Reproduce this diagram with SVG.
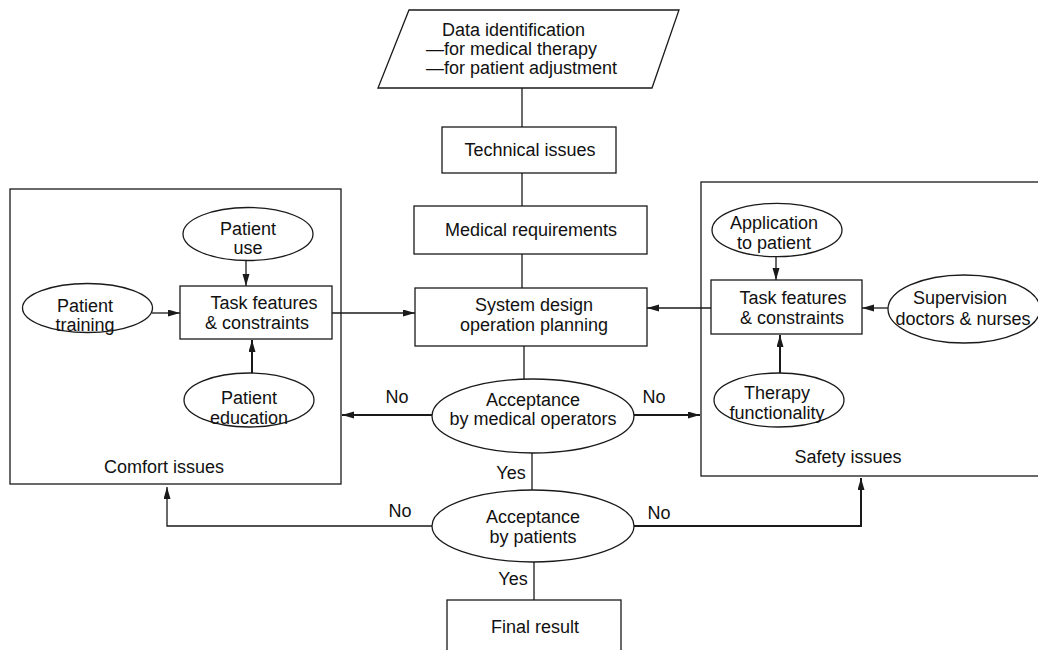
<svg xmlns="http://www.w3.org/2000/svg" width="1038" height="650" viewBox="0 0 1038 650">
<style>
  .shape { fill: #ffffff; stroke: #1a1a1a; stroke-width: 1.3; }
  .frame { fill: none; stroke: #1a1a1a; stroke-width: 1.3; }
  .line { fill: none; stroke: #1a1a1a; stroke-width: 1.3; }
  .thick { fill: none; stroke: #1a1a1a; stroke-width: 2; }
  text { font-family: "Liberation Sans", Arial, sans-serif; font-size: 18px; fill: #111111; }
  .c { text-anchor: middle; }
</style>
<defs>
  <marker id="arr" markerUnits="userSpaceOnUse" markerWidth="12" markerHeight="8" refX="12" refY="3.5" orient="auto">
    <path d="M0,0 L12,3.5 L0,7 z" fill="#1a1a1a"/>
  </marker>
</defs>
<rect width="1038" height="650" fill="#ffffff"/>

<g id="comfort-issues">
  <rect class="frame" x="10" y="189" width="331" height="295"/>
  <text class="c" x="164" y="473">Comfort issues</text>
</g>
<g id="safety-issues">
  <rect class="frame" x="701" y="182" width="400" height="294"/>
  <text class="c" x="848" y="463">Safety issues</text>
</g>

<g id="connectors">
  <line class="line" x1="522" y1="88" x2="522" y2="127"/>
  <line class="line" x1="522" y1="173" x2="522" y2="206"/>
  <line class="line" x1="522" y1="254" x2="522" y2="288"/>
  <line class="line" x1="524" y1="346" x2="524" y2="379"/>
  <line class="thick" x1="432" y1="415" x2="342" y2="415" marker-end="url(#arr)"/>
  <line class="thick" x1="634" y1="415" x2="700" y2="415" marker-end="url(#arr)"/>
  <line class="line" x1="532" y1="453" x2="532" y2="490"/>
  <polyline class="line" points="432,526 167,526 167,487" marker-end="url(#arr)"/>
  <polyline class="thick" points="634,526 861,526 861,478" marker-end="url(#arr)"/>
  <line class="line" x1="534" y1="562" x2="534" y2="600"/>
  <line class="line" x1="246" y1="261" x2="246" y2="286" marker-end="url(#arr)"/>
  <line class="line" x1="152" y1="313" x2="180" y2="313" marker-end="url(#arr)"/>
  <line class="line" x1="332" y1="313" x2="415" y2="313" marker-end="url(#arr)"/>
  <line class="thick" x1="252" y1="373" x2="252" y2="340" marker-end="url(#arr)"/>
  <line class="line" x1="776" y1="257" x2="776" y2="280" marker-end="url(#arr)"/>
  <line class="line" x1="888" y1="308" x2="862" y2="308" marker-end="url(#arr)"/>
  <line class="line" x1="711" y1="308" x2="647" y2="308" marker-end="url(#arr)"/>
  <line class="thick" x1="780" y1="373" x2="780" y2="335" marker-end="url(#arr)"/>
  <text class="c" x="397" y="403">No</text>
  <text class="c" x="654" y="403">No</text>
  <text class="c" x="511" y="479">Yes</text>
  <text class="c" x="400" y="517">No</text>
  <text class="c" x="659" y="519">No</text>
  <text class="c" x="513" y="585">Yes</text>
</g>

<g id="data-identification">
  <polygon class="shape" points="409,10 679,10 652,88 378,88"/>
  <text x="442" y="36">Data identification</text>
  <text x="426" y="55">—for medical therapy</text>
  <text x="426" y="74">—for patient adjustment</text>
</g>
<g id="technical-issues">
  <rect class="shape" x="442" y="127" width="174" height="46"/>
  <text class="c" x="530" y="156">Technical issues</text>
</g>
<g id="medical-requirements">
  <rect class="shape" x="414" y="206" width="233" height="48"/>
  <text class="c" x="531" y="236">Medical requirements</text>
</g>
<g id="system-design">
  <rect class="shape" x="415" y="288" width="232" height="58"/>
  <text class="c" x="534" y="311">System design</text>
  <text class="c" x="534" y="331">operation planning</text>
</g>
<g id="acceptance-operators">
  <ellipse class="shape" cx="533" cy="416" rx="101" ry="37"/>
  <text class="c" x="533" y="406">Acceptance</text>
  <text class="c" x="533" y="425">by medical operators</text>
</g>
<g id="acceptance-patients">
  <ellipse class="shape" cx="533" cy="526" rx="101" ry="36"/>
  <text class="c" x="533" y="523">Acceptance</text>
  <text class="c" x="533" y="543">by patients</text>
</g>
<g id="final-result">
  <rect class="shape" x="447" y="600" width="174" height="60"/>
  <text class="c" x="535" y="633">Final result</text>
</g>

<g id="patient-use">
  <ellipse class="shape" cx="248" cy="234" rx="65" ry="26.5"/>
  <text class="c" x="248" y="235">Patient</text>
  <text class="c" x="248" y="254">use</text>
</g>
<g id="comfort-task">
  <rect class="shape" x="180" y="286" width="152" height="53"/>
  <text class="c" x="264" y="309">Task features</text>
  <text class="c" x="257" y="329">&amp; constraints</text>
</g>
<g id="patient-training">
  <ellipse class="shape" cx="87.5" cy="308" rx="65" ry="24.5"/>
  <text class="c" x="85" y="312">Patient</text>
  <text class="c" x="85" y="331">training</text>
</g>
<g id="patient-education">
  <ellipse class="shape" cx="249" cy="400" rx="65" ry="27"/>
  <text class="c" x="249" y="404">Patient</text>
  <text class="c" x="249" y="424">education</text>
</g>

<g id="application-to-patient">
  <ellipse class="shape" cx="777" cy="230" rx="65" ry="26.7"/>
  <text class="c" x="774" y="229">Application</text>
  <text class="c" x="774" y="249">to patient</text>
</g>
<g id="safety-task">
  <rect class="shape" x="711" y="280" width="151" height="54"/>
  <text class="c" x="793" y="304">Task features</text>
  <text class="c" x="792" y="324">&amp; constraints</text>
</g>
<g id="supervision">
  <ellipse class="shape" cx="964" cy="309" rx="76" ry="34"/>
  <text class="c" x="960" y="304">Supervision</text>
  <text class="c" x="963" y="325">doctors &amp; nurses</text>
</g>
<g id="therapy-functionality">
  <ellipse class="shape" cx="779" cy="400" rx="65" ry="27"/>
  <text class="c" x="777" y="399">Therapy</text>
  <text class="c" x="777" y="419">functionality</text>
</g>
</svg>
